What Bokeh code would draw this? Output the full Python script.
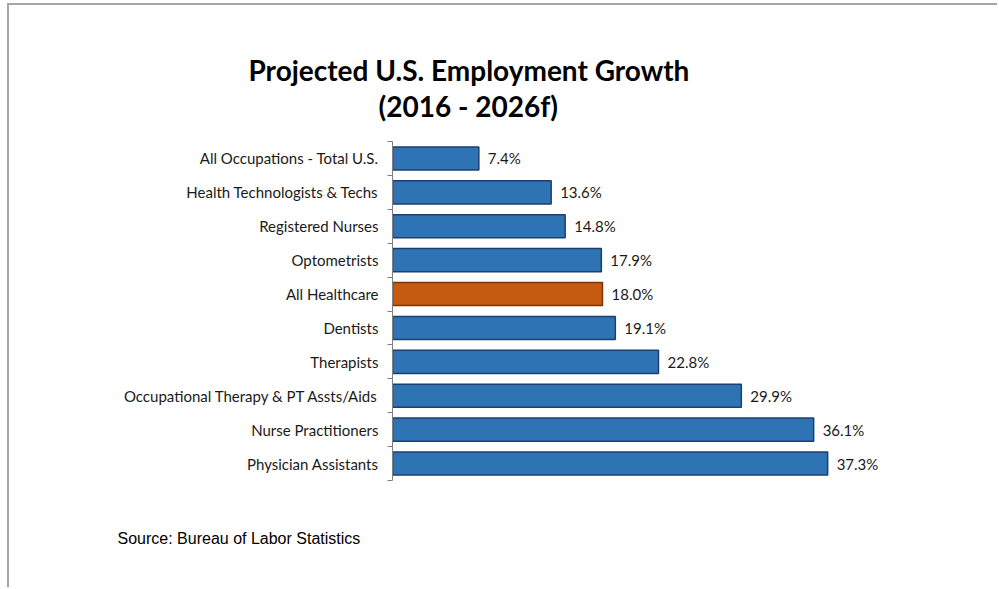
from bokeh.plotting import figure
from bokeh.models import Range1d, FixedTicker, Title, ColumnDataSource
from bokeh.core.properties import value
from bokeh.embed import file_html
from bokeh.resources import INLINE

categories = [
    "All Occupations - Total U.S.",
    "Health Technologists & Techs",
    "Registered Nurses",
    "Optometrists",
    "All Healthcare",
    "Dentists",
    "Therapists",
    "Occupational Therapy & PT Assts/Aids",
    "Nurse Practitioners",
    "Physician Assistants",
]
growth = [7.4, 13.6, 14.8, 17.9, 18.0, 19.1, 22.8, 29.9, 36.1, 37.3]
highlight = "All Healthcare"
title_line1 = "Projected U.S. Employment Growth"
title_line2 = "(2016 - 2026f)"
source_note = "Source: Bureau of Labor Statistics"

BLUE, BLUE_EDGE = "#2e74b5", "#1c3f6e"
ORANGE, ORANGE_EDGE = "#c55a11", "#7f3408"

n = len(categories)
centers = [i + 0.5 for i in range(n)]
fills = [ORANGE if c == highlight else BLUE for c in categories]
edges = [ORANGE_EDGE if c == highlight else BLUE_EDGE for c in categories]
labels = [f"{v:.1f}%" for v in growth]

src = ColumnDataSource(dict(y=centers, v=growth, fill=fills, edge=edges, lab=labels))

p = figure(
    width=990, height=584,
    x_range=Range1d(0, 45), y_range=Range1d(n, 0),
    output_backend="svg", toolbar_location=None,
    min_border_left=383, min_border_right=82,
    min_border_top=136, min_border_bottom=109,
)
p.styles = {"border-top": "2px solid #a6a6a6", "border-left": "2px solid #a6a6a6",
            "margin-left": "7px", "margin-top": "3px"}
p.outline_line_color = None
p.xgrid.visible = False
p.ygrid.visible = False
p.xaxis.visible = False

p.hbar(y="y", left=0, right="v", height=0.68, source=src,
       fill_color="fill", line_color="edge", line_width=1.5)

p.text(x="v", y="y", text="lab", source=src, x_offset=9,
       text_baseline="middle", text_align="left",
       text_font=value("Lato"), text_font_size="15px", text_color="#1a1a1a")

yax = p.yaxis[0]
yax.ticker = FixedTicker(ticks=centers, minor_ticks=list(range(n + 1)))
yax.major_label_overrides = {c: cat for c, cat in zip(centers, categories)}
yax.major_tick_out = 0
yax.major_tick_in = 0
yax.minor_tick_out = 5
yax.minor_tick_in = 0
yax.minor_tick_line_color = "#7f7f7f"
yax.axis_line_color = "#7f7f7f"
yax.major_label_standoff = 9
yax.major_label_text_font = "Lato"
yax.major_label_text_font_size = "15px"
yax.major_label_text_color = "#1a1a1a"

p.add_layout(Title(text=" ", align="left", standoff=3, text_font_size="12px"), "above")
p.add_layout(Title(text=title_line2, align="left", offset=-14, standoff=0, text_font="Lato",
                   text_font_style="bold", text_font_size="28px", text_color="#000000"), "above")
p.add_layout(Title(text=title_line1, align="left", offset=-144, standoff=0, text_font="Lato",
                   text_font_style="bold", text_font_size="28px", text_color="#000000"), "above")
p.add_layout(Title(text=" ", align="left", standoff=31, text_font_size="12px"), "below")
p.add_layout(Title(text=source_note, align="left", offset=-275, standoff=0,
                   text_font="Liberation Sans", text_font_style="normal",
                   text_font_size="16px", text_color="#000000"), "below")

open("out.html", "w").write(file_html(p, INLINE))
